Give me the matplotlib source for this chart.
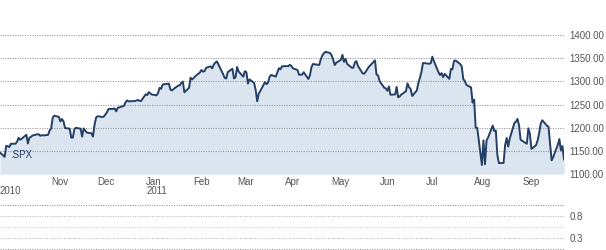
import matplotlib
matplotlib.use("Agg")
import matplotlib.pyplot as plt
import pandas as pd
import numpy as np

plt.rcParams['font.family'] = ['Liberation Sans', 'DejaVu Sans']

# S&P 500 (.SPX) daily closes, Oct 2010 - Sep 2011
oct10 = [1146.2, 1137.0, 1160.8, 1160.0, 1158.1, 1165.2, 1165.3, 1169.8, 1178.1, 1173.8,
         1176.2, 1184.7, 1165.9, 1178.2, 1180.3, 1183.1, 1185.6, 1185.6, 1182.5, 1183.8, 1183.3]
nov10 = [1184.4, 1193.6, 1198.0, 1221.1, 1225.9, 1223.3, 1213.4, 1218.7, 1213.5, 1199.2,
         1197.8, 1178.3, 1178.6, 1196.7, 1199.7, 1197.8, 1180.7, 1198.4, 1189.4, 1187.8, 1180.6]
dec10 = [1206.1, 1221.5, 1224.7, 1223.1, 1223.8, 1228.3, 1233.0, 1240.4, 1240.5, 1241.6,
         1235.2, 1242.9, 1243.9, 1247.1, 1254.6, 1258.8, 1256.8, 1257.5, 1258.5, 1259.8, 1257.9, 1257.6]
jan11 = [1271.9, 1270.2, 1276.6, 1273.9, 1271.5, 1269.8, 1274.5, 1286.0, 1283.8, 1293.2,
         1295.0, 1281.9, 1280.3, 1283.4, 1290.8, 1291.2, 1296.6, 1299.5, 1276.3, 1286.1]
feb11 = [1307.6, 1304.0, 1307.1, 1310.9, 1319.1, 1324.6, 1320.9, 1321.9, 1329.2, 1332.3,
         1328.0, 1336.3, 1340.4, 1343.0, 1315.4, 1307.4, 1306.1, 1319.9, 1327.2]
mar11 = [1306.3, 1308.4, 1331.0, 1321.2, 1310.1, 1321.8, 1320.0, 1295.1, 1304.3, 1296.4,
         1281.9, 1256.9, 1273.7, 1279.2, 1298.4, 1293.8, 1297.5, 1309.7, 1313.8, 1310.2,
         1319.4, 1328.3, 1325.8]
apr11 = [1332.4, 1332.9, 1332.6, 1335.5, 1333.5, 1328.2, 1324.5, 1314.2, 1314.4, 1314.5,
         1319.7, 1305.1, 1312.6, 1330.4, 1337.4, 1335.3, 1347.2, 1355.7, 1360.5, 1363.6]
may11 = [1361.2, 1356.6, 1347.3, 1335.1, 1340.2, 1346.3, 1357.2, 1342.1, 1348.7, 1337.8,
         1329.5, 1329.0, 1340.7, 1343.6, 1333.3, 1317.4, 1316.3, 1320.5, 1325.7, 1331.1, 1345.2]
jun11 = [1314.6, 1312.9, 1300.2, 1286.2, 1284.9, 1279.6, 1289.0, 1271.0, 1271.8, 1287.9,
         1265.4, 1267.6, 1271.5, 1278.4, 1295.5, 1287.1, 1283.5, 1268.5, 1280.1, 1296.7,
         1307.4, 1320.6]
jul11 = [1339.7, 1337.9, 1339.2, 1353.2, 1343.8, 1319.5, 1313.6, 1317.7, 1308.9, 1316.1,
         1305.4, 1326.7, 1325.8, 1343.8, 1345.0, 1337.4, 1331.9, 1304.9, 1300.7, 1292.3]
aug11 = [1286.9, 1254.1, 1260.3, 1200.1, 1199.4, 1119.5, 1172.5, 1120.8, 1172.6, 1178.8,
         1204.5, 1192.8, 1193.9, 1140.7, 1123.5, 1123.8, 1162.4, 1177.6, 1159.3, 1176.8,
         1210.1, 1212.9, 1218.9]
sep11 = [1204.4, 1174.0, 1165.2, 1198.6, 1185.9, 1154.2, 1162.3, 1172.9, 1188.7, 1209.1,
         1216.0, 1204.1, 1202.1, 1166.8, 1129.6, 1136.4, 1163.0, 1175.4, 1151.1, 1160.4, 1131.4]

closes = oct10 + nov10 + dec10 + jan11 + feb11 + mar11 + apr11 + may11 + jun11 + jul11 + aug11 + sep11

holidays = ["2010-11-25", "2010-12-24", "2011-01-17", "2011-02-21", "2011-04-22",
            "2011-05-30", "2011-07-04", "2011-09-05"]
dates = pd.bdate_range("2010-10-01", "2011-09-30")
dates = dates[~dates.isin(pd.to_datetime(holidays))]
n = min(len(dates), len(closes))
dates = dates[:n]
closes = np.array(closes[:n])

main_ticks = [1100, 1150, 1200, 1250, 1300, 1350, 1400]
main_labels = ["1100.00", "1150.00", "1200.00", "1250.00", "1300.00", "1350.00", "1400.00"]
month_labels = ["Nov", "Dec", "Jan", "Feb", "Mar", "Apr", "May", "Jun", "Jul", "Aug", "Sep"]
month_starts = pd.date_range("2010-11-01", "2011-09-01", freq="MS")
year_labels = [("2010", "2010-10-01"), ("2011", "2011-01-01")]
lower_ticks = [0.3, 0.8]
lower_labels = ["0.3", "0.8"]

W, H = 606, 250
fig = plt.figure(figsize=(W / 100, H / 100), dpi=100)
line_c = "#233f66"
fill_c = "#dbe5f0"
txt_c = "#555555"
grid_c = "#9a9a9a"
fs = 7

x0 = pd.Timestamp("2010-10-01")
x1 = pd.Timestamp("2011-09-30")

# main panel
ax = fig.add_axes([0, (H - 174) / H, 564 / W, 139 / H])
ax.set_xlim(x0, x1)
ax.set_ylim(1100, 1400)
ax.fill_between(dates, closes, 1100, color=fill_c, lw=0, zorder=1)
ax.plot(dates, closes, color=line_c, lw=1.4, zorder=3, solid_joinstyle="round")
for v in main_ticks:
    ax.axhline(v, color=grid_c, lw=0.8, ls=(0, (1, 1.2)), zorder=2)
for s in ax.spines.values():
    s.set_visible(False)
ax.yaxis.tick_right()
ax.set_yticks(main_ticks)
ax.set_yticklabels(main_labels)
ax.tick_params(axis="y", length=0, pad=4, labelsize=fs, labelcolor=txt_c)
ax.set_xticks([])
ax.patch.set_alpha(0)
ax.text(10 / 564, (174 - 155) / 139, ".SPX", transform=ax.transAxes, fontsize=fs,
        color=line_c, va="center", ha="left", zorder=4)
for lab, d in zip(month_labels, month_starts):
    ax.annotate(lab, xy=(d, 0), xycoords=("data", "axes fraction"),
                xytext=(3, -8), textcoords="offset pixels", ha="left", va="center",
                fontsize=fs, color=txt_c)
for lab, d in year_labels:
    off = 0 if lab == "2010" else 4
    ax.annotate(lab, xy=(pd.Timestamp(d), 0), xycoords=("data", "axes fraction"),
                xytext=(off, -17), textcoords="offset pixels", ha="left", va="center",
                fontsize=fs, color=txt_c, annotation_clip=False)

# lower panel
ax2 = fig.add_axes([0, 1 / H, 564 / W, 44 / H])
ax2.set_xlim(0, 1)
ax2.set_ylim(0.05, 1.05)
for v, c in [(1.05, grid_c), (0.8, "#bdbdbd"), (0.55, "#cfcfcf"), (0.3, "#bdbdbd"), (0.05, grid_c)]:
    ax2.axhline(v, color=c, lw=0.8, ls=(0, (1, 1.2)), clip_on=False)
for s in ax2.spines.values():
    s.set_visible(False)
ax2.yaxis.tick_right()
ax2.set_yticks(lower_ticks)
ax2.set_yticklabels(lower_labels)
ax2.tick_params(axis="y", length=0, pad=4, labelsize=fs, labelcolor=txt_c)
ax2.set_xticks([])
ax2.patch.set_alpha(0)

fig.savefig("out.png", dpi=100)
